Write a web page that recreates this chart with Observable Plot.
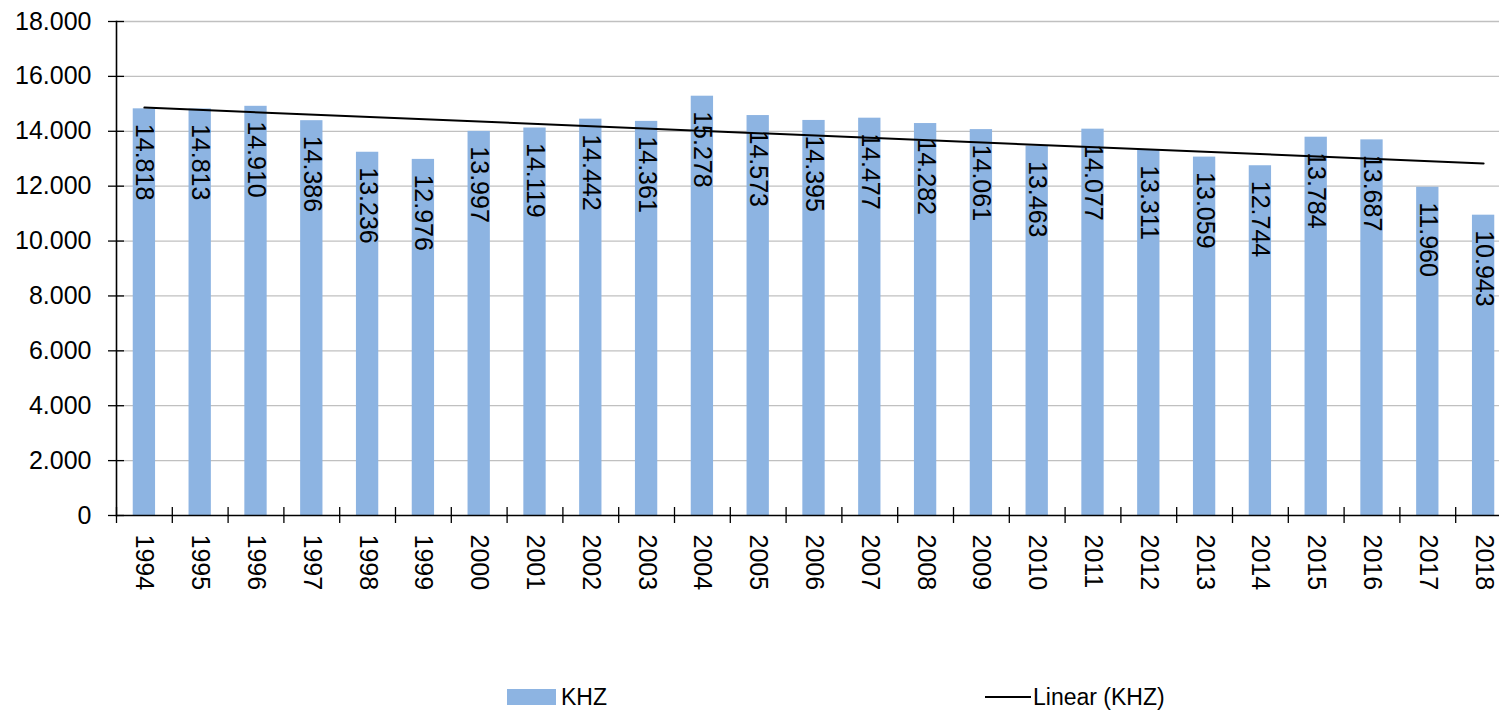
<!DOCTYPE html>
<html>
<head>
<meta charset="utf-8">
<script src="https://cdn.jsdelivr.net/npm/d3@7"></script>
<script src="https://cdn.jsdelivr.net/npm/@observablehq/plot@0.6"></script>
<style>
  html, body { margin: 0; padding: 0; background: #fff; }
  #wrap { position: relative; width: 1499px; height: 710px; overflow: hidden; font-family: "Liberation Sans", Arial, sans-serif; }
  .lg { position: absolute; }
  .lgtext { position: absolute; font-size: 23px; line-height: 23px; color: #000; white-space: pre; }
</style>
</head>
<body>
<div id="wrap"></div>
<script>
const years = [1994,1995,1996,1997,1998,1999,2000,2001,2002,2003,2004,2005,2006,2007,2008,2009,2010,2011,2012,2013,2014,2015,2016,2017,2018];
const values = [14818,14813,14910,14386,13236,12976,13997,14119,14442,14361,15278,14573,14395,14477,14282,14061,13463,14077,13311,13059,12744,13784,13687,11960,10943];
const yTicks = [0,2000,4000,6000,8000,10000,12000,14000,16000,18000];
const seriesName = "KHZ";
const trendName = "Linear (KHZ)";

const data = years.map((y, i) => ({year: String(y), value: values[i]}));
const fmt = d => d3.format(",")(d).replace(/,/g, ".");

// least-squares linear trend over the series
const n = values.length;
const xs = values.map((_, i) => i + 1);
const mx = d3.mean(xs), my = d3.mean(values);
const slope = d3.sum(xs, (x, i) => (x - mx) * (values[i] - my)) / d3.sum(xs, x => (x - mx) ** 2);
const icpt = my - slope * mx;
const trend = [0, n - 1].map(i => ({year: String(years[i]), value: icpt + slope * (i + 1)}));

const W = 1499, H = 650;
const xRange = [116, 1511];
const step = (xRange[1] - xRange[0]) / years.length;
const px8 = 8 * 18000 / 494;

const chart = Plot.plot({
  width: W,
  height: H,
  marginLeft: 116,
  marginRight: 0,
  marginTop: 21,
  marginBottom: 135,
  style: {fontFamily: "'Liberation Sans', Arial, sans-serif", fontSize: "25px", background: "#fff", overflow: "hidden"},
  x: {type: "band", domain: years.map(String), range: xRange, paddingInner: 0.6, paddingOuter: 0.3, round: false, axis: null},
  y: {domain: [0, 18000], range: [515, 21], axis: null},
  marks: [
    Plot.ruleY(yTicks.filter(d => d > 0), {stroke: "#c0c0c0", strokeWidth: 1.3}),
    Plot.barY(data, {x: "year", y: "value", fill: "#8db4e2"}),
    Plot.text(data, {x: "year", y: "value", text: d => fmt(d.value), rotate: 90, textAnchor: "start", dy: 15, fontSize: 25, fill: "#000"}),
    Plot.line(trend, {x: "year", y: "value", stroke: "#000", strokeWidth: 2}),
    Plot.frame({anchor: "left", stroke: "#000", strokeWidth: 1.6}),
    Plot.frame({anchor: "bottom", stroke: "#000", strokeWidth: 1.6}),
    Plot.ruleY(yTicks, {y: d => d, insetLeft: -8, insetRight: W - 116 - 8, stroke: "#000", strokeWidth: 1.3}),
    Plot.ruleX(years.map(String), {x: d => d, y1: -px8, y2: px8, dx: -step / 2, stroke: "#000", strokeWidth: 1.3}),
    Plot.axisY({ticks: yTicks, tickFormat: fmt, tickSize: 0, tickPadding: 25, fontSize: 25, label: null}),
    Plot.text(years.map(String), {x: d => d, y: 0, text: d => d, rotate: 90, textAnchor: "start", dy: 19, fontSize: 25, fill: "#000"})
  ]
});

const wrap = document.getElementById("wrap");
wrap.appendChild(chart);

// legend
function add(tag, cls, css, txt) {
  const el = document.createElement(tag);
  el.className = cls;
  Object.assign(el.style, css);
  if (txt) el.textContent = txt;
  wrap.appendChild(el);
}
add("div", "lg", {left: "507px", top: "689px", width: "49px", height: "16px", background: "#8db4e2"});
add("div", "lgtext", {left: "561px", top: "686px"}, seriesName);
add("div", "lg", {left: "985px", top: "696px", width: "46px", height: "2px", background: "#000"});
add("div", "lgtext", {left: "1033px", top: "686px"}, trendName);
</script>
</body>
</html>
